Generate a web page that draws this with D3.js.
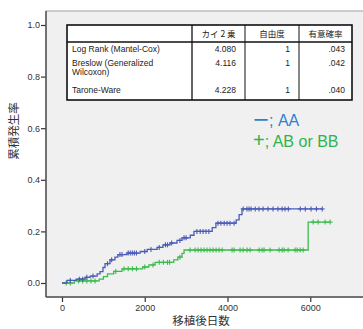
<!DOCTYPE html>
<html>
<head>
<meta charset="utf-8">
<script src="https://cdn.jsdelivr.net/npm/d3@7"></script>
<style>
  body { margin: 0; background: #fff; }
  svg { display: block; }
</style>
</head>
<body>
<script>
// --- data ---
var blueTimes = [0, 120, 340, 560, 680, 850, 920, 990, 1040, 1160, 1280, 1350, 1570, 1890, 2060, 2300, 2440, 2610, 2780, 2900, 3100, 3190, 3630, 3720, 4210, 4280, 4350];
var blueRates = [0, 0.01, 0.015, 0.022, 0.027, 0.035, 0.044, 0.06, 0.075, 0.09, 0.1, 0.11, 0.116, 0.122, 0.13, 0.138, 0.148, 0.155, 0.165, 0.175, 0.185, 0.2, 0.215, 0.232, 0.245, 0.265, 0.287];
var blueEnd = 6290;
var blueCensor = [200, 420, 500, 600, 750, 1100, 1200, 1400, 1450, 1600, 1650, 1700, 1750, 1800, 2000, 2150, 2350, 2500, 2550, 2650, 2850, 2950, 3000,
  3260, 3340, 3410, 3480, 3550, 3770, 3840, 3920, 3990, 4060, 4160,
  4380, 4470, 4520, 4570, 4670, 4760, 4860, 4980, 5100, 5220, 5320, 5390, 5470, 5760, 5880, 6020, 6150, 6290];

var greenTimes = [0, 300, 900, 1000, 1100, 1250, 1450, 1950, 2100, 2250, 2700, 2800, 2900, 2950, 5950];
var greenRates = [0, 0.008, 0.015, 0.025, 0.035, 0.045, 0.055, 0.062, 0.07, 0.08, 0.09, 0.1, 0.115, 0.128, 0.236];
var greenEnd = 6480;
var greenCensor = [100, 200, 400, 500, 600, 700, 800, 1300, 1500, 1600, 1700, 1800, 2000, 2200, 2350, 2450, 2550, 2600, 2850,
  3095, 3216, 3289, 3361, 3434, 3506, 3579, 3651, 3724, 3796, 3869, 4111, 4159, 4304, 4377, 4473, 4546, 4764, 4836, 4884,
  5030, 5247, 5320, 5368, 5465, 5634, 5683, 5755, 5828, 6070, 6190, 6360, 6480];

var yTicks = [0, 0.2, 0.4, 0.6, 0.8, 1.0];
var xTicks = [0, 2000, 4000, 6000];

var tableHeader = ['', 'カイ 2 乗', '自由度', '有意確率'];
var tableTests = [['Log Rank (Mantel-Cox)'], ['Breslow (Generalized', 'Wilcoxon)'], ['Tarone-Ware']];
var tableChi = ['4.080', '4.116', '4.228'];
var tableDf = ['1', '1', '1'];
var tableP = ['.043', '.042', '.040'];

var legendSymbols = ['ー', '+'];
var legendLabels = ['; AA', '; AB or BB'];

// --- drawing ---
var w = 363, h = 329;
var blue = '#4a5cb8', green = '#3cbc4c';

var svg = d3.select('body').append('svg').attr('width', w).attr('height', h);

var x = d3.scaleLinear().domain([0, 8000]).range([62, 393]);
var y = d3.scaleLinear().domain([0, 1]).range([283, 25]);

// plot frame
svg.append('rect')
  .attr('x', 46).attr('y', 11)
  .attr('width', 330).attr('height', 286)
  .attr('fill', '#f0f0f0')
  .attr('stroke', '#a0a0a0').attr('stroke-width', 1);

// axes
var yAxis = svg.append('g').attr('transform', 'translate(46,0)')
  .call(d3.axisLeft(y).tickValues(yTicks).tickFormat(d3.format('.1f')).tickSize(5).tickPadding(1));
var xAxis = svg.append('g').attr('transform', 'translate(0,297)')
  .call(d3.axisBottom(x).tickValues(xTicks).tickFormat(d3.format('d')).tickSize(5).tickPadding(3));
[yAxis, xAxis].forEach(function(a) {
  a.select('.domain').remove();
  a.selectAll('line').attr('stroke', '#333').attr('stroke-width', 1.2);
  a.selectAll('text').attr('fill', '#333').attr('font-family', 'Liberation Sans, Arial, sans-serif').attr('font-size', 9);
});
svg.append('line').attr('x1', 46).attr('x2', 46).attr('y1', 11).attr('y2', 297).attr('stroke', '#555').attr('stroke-width', 1.5);
svg.append('line').attr('x1', 46).attr('x2', w).attr('y1', 297).attr('y2', 297).attr('stroke', '#555').attr('stroke-width', 1.5);

// axis titles
svg.append('text')
  .attr('transform', 'translate(18,131) rotate(-90)')
  .attr('text-anchor', 'middle')
  .attr('font-family', 'Noto Sans CJK JP, sans-serif')
  .attr('font-size', 11.5).attr('fill', '#333')
  .text('累積発生率');
svg.append('text')
  .attr('x', 201).attr('y', 325)
  .attr('text-anchor', 'middle')
  .attr('font-family', 'Noto Sans CJK JP, sans-serif')
  .attr('font-size', 11.5).attr('fill', '#333')
  .text('移植後日数');

// curves
function stepValue(times, rates, t) {
  var v = 0;
  for (var i = 0; i < times.length; i++) { if (times[i] <= t) v = rates[i]; }
  return v;
}
function drawCurve(times, rates, end, censor, color) {
  var pts = times.map(function(t, i) { return [t, rates[i]]; });
  pts.push([end, rates[rates.length - 1]]);
  var line = d3.line().curve(d3.curveStepAfter)
    .x(function(d) { return x(d[0]); })
    .y(function(d) { return y(d[1]); });
  svg.append('path').attr('d', line(pts))
    .attr('fill', 'none').attr('stroke', color).attr('stroke-width', 1.3);
  var g = svg.append('g').attr('stroke', color).attr('stroke-width', 1.1);
  censor.forEach(function(t) {
    var cx = x(t), cy = y(stepValue(times, rates, t));
    g.append('line').attr('x1', cx - 2.5).attr('x2', cx + 2.5).attr('y1', cy).attr('y2', cy);
    g.append('line').attr('x1', cx).attr('x2', cx).attr('y1', cy - 2.5).attr('y2', cy + 2.5);
  });
}
drawCurve(greenTimes, greenRates, greenEnd, greenCensor, green);
drawCurve(blueTimes, blueRates, blueEnd, blueCensor, blue);

// table
var colX = [67, 192, 245, 299, 352];
var rowY = [25, 42, 58, 84, 100];
var tbl = svg.append('g').attr('font-family', 'Liberation Sans, Arial, sans-serif').attr('font-size', 8.5).attr('fill', '#222');
tbl.append('rect').attr('x', colX[0]).attr('y', rowY[0])
  .attr('width', colX[4] - colX[0]).attr('height', rowY[4] - rowY[0])
  .attr('fill', '#fff').attr('stroke', '#111').attr('stroke-width', 1.6);
tbl.append('line').attr('x1', colX[0]).attr('x2', colX[4]).attr('y1', rowY[1]).attr('y2', rowY[1]).attr('stroke', '#111').attr('stroke-width', 1.3);
tbl.append('line').attr('x1', colX[1]).attr('x2', colX[1]).attr('y1', rowY[0]).attr('y2', rowY[4]).attr('stroke', '#111').attr('stroke-width', 1.3);
[2, 3].forEach(function(c) {
  tbl.append('line').attr('x1', colX[c]).attr('x2', colX[c]).attr('y1', rowY[0]).attr('y2', rowY[4]).attr('stroke', '#111').attr('stroke-width', 1);
});
tableHeader.forEach(function(t, c) {
  if (!t) return;
  tbl.append('text').attr('x', (colX[c] + colX[c + 1]) / 2).attr('y', 37)
    .attr('text-anchor', 'middle').attr('font-family', 'Noto Sans CJK JP, sans-serif').attr('font-size', 8.5)
    .text(t);
});
var rowBase = [52, 66, 93];
tableTests.forEach(function(lines, r) {
  lines.forEach(function(t, k) {
    tbl.append('text').attr('x', colX[0] + 5).attr('y', rowBase[r] + k * 9).text(t);
  });
  tbl.append('text').attr('x', colX[2] - 9).attr('y', rowBase[r]).attr('text-anchor', 'end').text(tableChi[r]);
  tbl.append('text').attr('x', colX[3] - 9).attr('y', rowBase[r]).attr('text-anchor', 'end').text(tableDf[r]);
  tbl.append('text').attr('x', colX[4] - 7).attr('y', rowBase[r]).attr('text-anchor', 'end').text(tableP[r]);
});

// legend
var legendColors = ['#2f7fd3', '#2eb34e'];
var symSize = [16, 20];
legendLabels.forEach(function(t, i) {
  var txt = svg.append('text').attr('x', 253).attr('y', 126 + i * 21)
    .attr('font-family', 'Liberation Sans, Arial, sans-serif').attr('font-size', 16)
    .attr('fill', legendColors[i]);
  txt.append('tspan').attr('font-size', symSize[i]).text(legendSymbols[i]);
  txt.append('tspan').text(t);
});
</script>
</body>
</html>
